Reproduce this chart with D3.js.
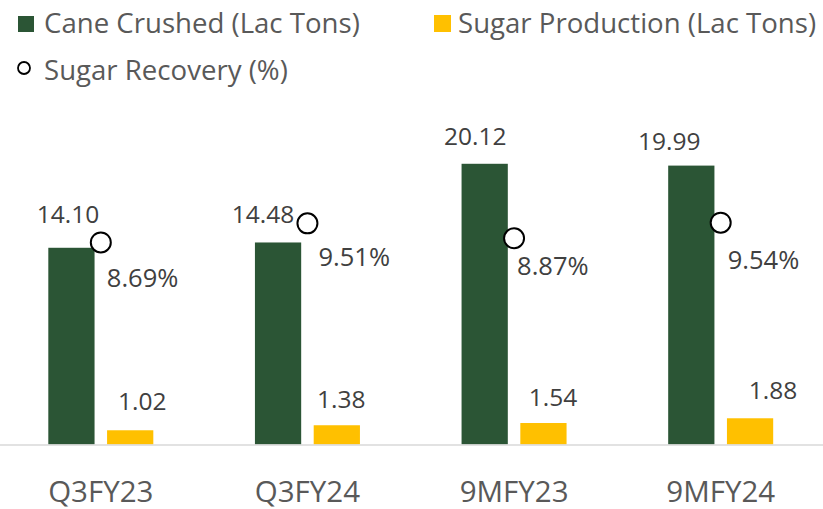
<!DOCTYPE html>
<html>
<head>
<meta charset="utf-8">
<script src="https://cdn.jsdelivr.net/npm/d3@7"></script>
<style>
  body { margin: 0; background: #fff; }
  text { font-family: "Open Sans", "Noto Sans", sans-serif; }
</style>
</head>
<body>
<div id="chart"></div>
<script>
// data
var periods = ["Q3FY23", "Q3FY24", "9MFY23", "9MFY24"];
var caneCrushed = [14.10, 14.48, 20.12, 19.99];
var sugarProduction = [1.02, 1.38, 1.54, 1.88];
var sugarRecovery = [8.69, 9.51, 8.87, 9.54];

var seriesNames = ["Cane Crushed (Lac Tons)", "Sugar Production (Lac Tons)", "Sugar Recovery (%)"];

// hand-placed label nudges (dx, dy) as in the original slide
var caneNudge = [[-3.5, -25], [-15, -19.5], [-9.5, -18.5], [-22, -16]];
var sugarNudge = [[12, -20.5], [4.5, -17.5], [9.5, -17.5], [23, -19.5]];
var recNudge = [[6, 45], [11, 43], [3, 37], [7, 46]];

var svgWidth = 823;
var svgHeight = 509;

var green = "#2b5535";
var yellow = "#ffc000";

var svg = d3.select("#chart")
  .append("svg")
  .attr("width", svgWidth)
  .attr("height", svgHeight);

var baseY = 444.5;
var topY = 95.7;

// scales
var x0 = d3.scaleBand()
  .domain(periods)
  .range([-2.5, 824]);

var x1 = d3.scaleBand()
  .domain(["cane", "sugar"])
  .range([-52.5, 52.5])
  .paddingInner(0.213);

var yLeft = d3.scaleLinear().domain([0, 25]).range([baseY, topY]);
var yRight = d3.scaleLinear().domain([0, 15]).range([baseY, topY]);

var rows = periods.map(function(p, i) {
  return { period: p, cane: caneCrushed[i], sugar: sugarProduction[i], rec: sugarRecovery[i], i: i };
});

function center(d) { return x0(d.period) + x0.bandwidth() / 2; }

// bars
var groups = svg.selectAll(".grp")
  .data(rows)
  .enter()
  .append("g")
  .attr("class", "grp")
  .attr("transform", d => `translate(${center(d)},0)`);

groups.append("rect")
  .attr("x", x1("cane"))
  .attr("width", x1.bandwidth())
  .attr("y", d => yLeft(d.cane))
  .attr("height", d => baseY - yLeft(d.cane))
  .attr("fill", green);

groups.append("rect")
  .attr("x", x1("sugar"))
  .attr("width", x1.bandwidth())
  .attr("y", d => yLeft(d.sugar))
  .attr("height", d => baseY - yLeft(d.sugar))
  .attr("fill", yellow);

// x axis line + labels
var xAxis = d3.axisBottom(x0).tickSize(0).tickPadding(0);
var axisG = svg.append("g")
  .attr("transform", `translate(0, ${baseY})`)
  .call(xAxis);
axisG.select(".domain")
  .attr("d", `M0,0.5H${svgWidth}`)
  .attr("stroke", "#d9d9d9")
  .attr("stroke-width", 1.5);
axisG.selectAll(".tick text")
  .attr("y", 57)
  .attr("dy", null)
  .attr("fill", "#595959")
  .style("font-size", "29.5px")
  .style("font-family", "'Open Sans', 'Noto Sans', sans-serif");

// value labels
groups.append("text")
  .attr("x", d => x1("cane") + x1.bandwidth() / 2 + caneNudge[d.i][0])
  .attr("y", d => yLeft(d.cane) + caneNudge[d.i][1])
  .attr("text-anchor", "middle")
  .attr("fill", "#404040")
  .style("font-size", "24.5px")
  .text(d => d.cane.toFixed(2));

groups.append("text")
  .attr("x", d => x1("sugar") + x1.bandwidth() / 2 + sugarNudge[d.i][0])
  .attr("y", d => yLeft(d.sugar) + sugarNudge[d.i][1])
  .attr("text-anchor", "middle")
  .attr("fill", "#404040")
  .style("font-size", "24.5px")
  .text(d => d.sugar.toFixed(2));

// recovery markers
groups.append("circle")
  .attr("cx", 0)
  .attr("cy", d => yRight(d.rec))
  .attr("r", 10)
  .attr("fill", "#fff")
  .attr("stroke", "#000")
  .attr("stroke-width", 2);

groups.append("text")
  .attr("x", d => recNudge[d.i][0])
  .attr("y", d => yRight(d.rec) + recNudge[d.i][1])
  .attr("fill", "#404040")
  .style("font-size", "25.5px")
  .text(d => d.rec.toFixed(2) + "%");

// legend
var legend = svg.append("g");

legend.append("rect")
  .attr("x", 18).attr("y", 16).attr("width", 16).attr("height", 16)
  .attr("fill", green);
legend.append("text")
  .attr("x", 44).attr("y", 33)
  .attr("fill", "#595959")
  .style("font-size", "27.6px")
  .text(seriesNames[0]);

legend.append("rect")
  .attr("x", 434).attr("y", 15).attr("width", 17).attr("height", 17)
  .attr("fill", yellow);
legend.append("text")
  .attr("x", 458).attr("y", 33)
  .attr("fill", "#595959")
  .style("font-size", "27.6px")
  .text(seriesNames[1]);

legend.append("circle")
  .attr("cx", 24).attr("cy", 68).attr("r", 6)
  .attr("fill", "#fff")
  .attr("stroke", "#000")
  .attr("stroke-width", 1.8);
legend.append("text")
  .attr("x", 44).attr("y", 80)
  .attr("fill", "#595959")
  .style("font-size", "27.6px")
  .text(seriesNames[2]);
</script>
</body>
</html>
